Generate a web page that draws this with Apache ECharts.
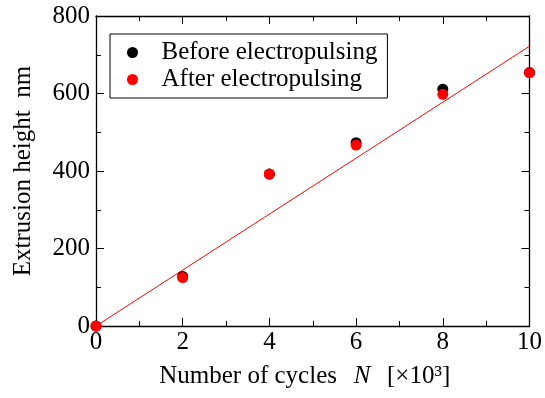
<!DOCTYPE html>
<html>
<head>
<meta charset="utf-8">
<script src="https://cdn.jsdelivr.net/npm/echarts@6/dist/echarts.min.js"></script>
<style>
html,body{margin:0;padding:0;background:#fff;}
#chart{width:545px;height:398px;}
</style>
</head>
<body>
<div id="chart"></div>
<script>
var cycles = [0, 2, 4, 6, 8, 10];
var beforeValues = [0, 128, 392, 473, 611, 654];
var afterValues = [0, 125, 392, 467, 598, 654];
var fitLine = [[0, 0], [10, 722]];
var xTicks = [0, 2, 4, 6, 8, 10];
var yTicks = [0, 200, 400, 600, 800];

var FONT = '"Liberation Serif", "Times New Roman", serif';

function pairs(xs, ys) { return xs.map(function (x, i) { return [x, ys[i]]; }); }

var chart = echarts.init(document.getElementById('chart'), null, {renderer: 'canvas'});
var axisCommon = {
  axisLine: {show: true, onZero: false, lineStyle: {color: '#000', width: 1.3}},
  axisTick: {show: true, inside: true, length: 8, lineStyle: {color: '#000', width: 1}},
  minorTick: {show: true, splitNumber: 2, length: 5, lineStyle: {color: '#000', width: 1}},
  splitLine: {show: false},
  minorSplitLine: {show: false}
};
chart.setOption({
  animation: false,
  backgroundColor: '#fff',
  grid: {left: 96, right: 13, top: 16, bottom: 72, containLabel: false},
  legend: {
    left: 110, top: 34,
    orient: 'vertical',
    data: ['Before electropulsing', 'After electropulsing'],
    icon: 'circle',
    itemWidth: 30, itemHeight: 11, itemGap: 2,
    padding: [6, 10, 6, 17],
    borderColor: '#000', borderWidth: 1,
    textStyle: {fontFamily: FONT, fontSize: 25, lineHeight: 25, color: '#000', padding: [0, 0, 0, 9]}
  },
  xAxis: [
    Object.assign({}, axisCommon, {
      type: 'value', min: 0, max: 10, interval: 2, position: 'bottom',
      axisLabel: {show: true, fontFamily: FONT, fontSize: 25, color: '#000', margin: 4,
        formatter: function (v) { return xTicks.indexOf(v) >= 0 ? String(v) : ''; }},
      name: '{t|Number of cycles}     {i|N}     {t|[×10³]}',
      nameLocation: 'middle', nameGap: 38,
      nameTextStyle: {padding: [0, 16, 0, 0], rich: {
        t: {fontFamily: FONT, fontSize: 25, color: '#000'},
        i: {fontFamily: FONT, fontSize: 25, fontStyle: 'italic', color: '#000'}
      }}
    }),
    Object.assign({}, axisCommon, {
      type: 'value', min: 0, max: 10, interval: 2, position: 'top',
      axisLabel: {show: false}
    })
  ],
  yAxis: [
    Object.assign({}, axisCommon, {
      type: 'value', min: 0, max: 800, interval: 200, position: 'left',
      axisLabel: {show: true, fontFamily: FONT, fontSize: 25, color: '#000', margin: 6,
        formatter: function (v) { return yTicks.indexOf(v) >= 0 ? String(v) : ''; }},
      name: 'Extrusion height  nm',
      nameLocation: 'middle', nameGap: 60,
      nameTextStyle: {fontFamily: FONT, fontSize: 25, color: '#000'}
    }),
    Object.assign({}, axisCommon, {
      type: 'value', min: 0, max: 800, interval: 200, position: 'right',
      axisLabel: {show: false}
    })
  ],
  series: [
    {
      name: 'Fit', type: 'line', data: fitLine, showSymbol: false, symbol: 'none',
      lineStyle: {color: '#ff0000', width: 1}, z: 1, clip: true
    },
    {
      name: 'Before electropulsing', type: 'scatter', data: pairs(cycles, beforeValues),
      symbol: 'circle', symbolSize: 11, itemStyle: {color: '#000', opacity: 1}, z: 2, clip: false
    },
    {
      name: 'After electropulsing', type: 'scatter', data: pairs(cycles, afterValues),
      symbol: 'circle', symbolSize: 11, itemStyle: {color: '#ff0000', opacity: 1}, z: 3, clip: false
    }
  ]
});
</script>
</body>
</html>
